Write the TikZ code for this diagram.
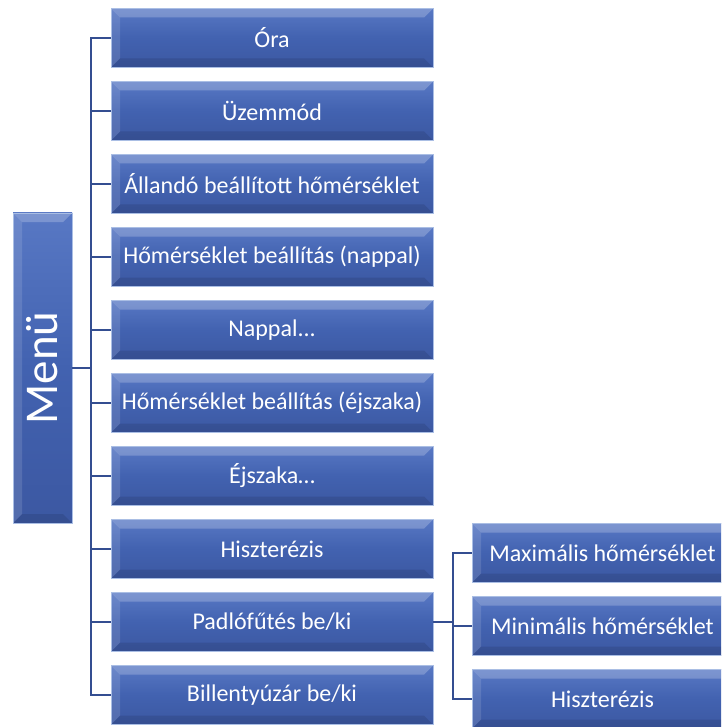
\documentclass[tikz,border=0pt]{standalone}
\usepackage{fontspec}
\setmainfont{Carlito}
\definecolor{boxtop}{RGB}{88,120,196}
\definecolor{boxmid}{RGB}{66,98,176}
\definecolor{boxbot}{RGB}{60,88,162}
\definecolor{boxedge}{RGB}{170,190,228}
\definecolor{linkc}{RGB}{52,78,145}
\tikzset{
  bevelbox/.style={draw=boxedge, line width=0.8pt, top color=boxtop, bottom color=boxbot, middle color=boxmid,
    text=white, inner sep=0pt, font=\fontsize{24}{28}\selectfont,
    path picture={
      \fill[white,opacity=0.22] (path picture bounding box.north west) -- (path picture bounding box.north east)
        -- ([xshift=-9pt,yshift=-9pt]path picture bounding box.north east) -- ([xshift=9pt,yshift=-9pt]path picture bounding box.north west) -- cycle;
      \fill[white,opacity=0.12] (path picture bounding box.north west) -- ([xshift=9pt,yshift=-9pt]path picture bounding box.north west)
        -- ([xshift=9pt,yshift=9pt]path picture bounding box.south west) -- (path picture bounding box.south west) -- cycle;
      \fill[black,opacity=0.10] (path picture bounding box.south west) -- (path picture bounding box.south east)
        -- ([xshift=-9pt,yshift=9pt]path picture bounding box.south east) -- ([xshift=9pt,yshift=9pt]path picture bounding box.south west) -- cycle;
    }},
  mainbox/.style={bevelbox, minimum width=322pt, minimum height=59pt},
  subbox/.style={bevelbox, minimum width=261pt, minimum height=59pt},
  menubox/.style={bevelbox, minimum width=59pt, minimum height=310pt},
  link/.style={draw=linkc, line width=2pt},
}
\begin{document}
\begin{tikzpicture}[x=1pt,y=-1pt]
\path[use as bounding box, clip] (0,0) rectangle (721,727);
\fill[white] (0,0) rectangle (721,727);
\node[menubox] (menu) at (42.5,368) {};
\node[rotate=90, text=white, font=\fontsize{47}{52}\selectfont] (menutext) at (menu.center) {Menü};
\node[mainbox] (b1) at (272,38) {Óra};
\node[mainbox] (b2) at (272,111) {Üzemmód};
\node[mainbox] (b3) at (272,184) {Állandó beállított hőmérséklet};
\node[mainbox] (b4) at (272,257) {Hőmérséklet beállítás (nappal)};
\node[mainbox] (b5) at (272,330) {Nappal...};
\node[mainbox] (b6) at (272,403) {Hőmérséklet beállítás (éjszaka)};
\node[mainbox] (b7) at (272,476) {Éjszaka…};
\node[mainbox] (b8) at (272,549) {Hiszterézis};
\node[mainbox] (b9) at (272,622) {Padlófűtés be/ki};
\node[mainbox] (b10) at (272,695) {Billentyúzár be/ki};
\node[subbox] (s1) at (602.5,553) {Maximális hőmérséklet};
\node[subbox] (s2) at (602.5,626) {Minimális hőmérséklet};
\node[subbox] (s3) at (602.5,699) {Hiszterézis};
\coordinate (trunk) at (91,368);
\coordinate (strunk) at (453,622);
\draw[link] (menu.east) -- (trunk);
\draw[link] (b1.west) -| (trunk);
\draw[link] (b10.west) -| (trunk);
\foreach \i in {2,...,9} { \draw[link] (b\i.west) -- (b\i.west -| trunk); }
\draw[link] (b9.east) -- (strunk);
\draw[link] (s1.west) -| (strunk);
\draw[link] (s3.west) -| (strunk);
\draw[link] (s2.west) -- (s2.west -| strunk);
\end{tikzpicture}
\end{document}
